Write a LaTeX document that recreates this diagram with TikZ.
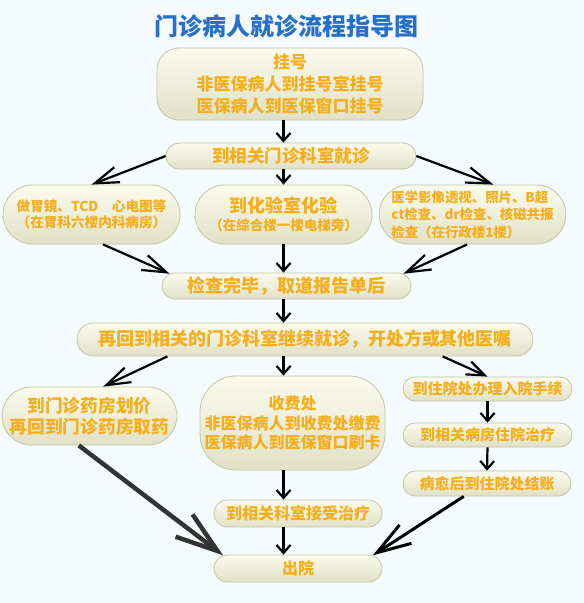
\documentclass[tikz,border=0pt]{standalone}
\usepackage{fontspec}
\usepackage{tikz}
\usepackage{xcolor}
\usetikzlibrary{arrows.meta, shapes.misc}
\newfontfamily\cjk{Noto Sans CJK SC}
\definecolor{bgblue}{RGB}{245,250,252}
\definecolor{boxtop}{RGB}{251,251,238}
\definecolor{boxbot}{RGB}{224,225,198}
\definecolor{boxline}{RGB}{196,196,168}
\definecolor{txtorange}{RGB}{245,174,28}
\definecolor{titleblue}{RGB}{38,112,205}
\tikzstyle{pill} = [rounded rectangle, draw=boxline, line width=0.8pt, top color=boxtop, bottom color=boxbot, text=txtorange, inner sep=0pt, align=center]
\tikzstyle{cornerbox} = [rectangle, draw=boxline, line width=0.8pt, top color=boxtop, bottom color=boxbot, text=txtorange, inner sep=0pt, align=center]
\tikzstyle{arr} = [line width=2.2pt, -{Straight Barb[length=8pt,width=14pt]}]
\tikzstyle{slant} = [line width=2.2pt, -{Straight Barb[length=24pt,width=16pt]}]
\tikzstyle{heavy} = [line width=4.5pt, draw=black!80, -{Straight Barb[length=42pt,width=28pt]}]
\newcommand{\boxfont}[2]{\cjk\bfseries\fontsize{#1}{#2}\selectfont}

\begin{document}
\begin{tikzpicture}[x=1pt, y=-1pt]
    % Page and background
    \fill[bgblue] (0,0) rectangle (584,603);
    \useasboundingbox (0,0) rectangle (584,603);

    % Title
    \node[text=titleblue, font=\boxfont{24}{24}] (title) at (286,26) {门诊病人就诊流程指导图};

    % Registration and department
    \node[cornerbox, rounded corners=22pt, minimum width=266pt, minimum height=72pt, font=\boxfont{17}{22}] (reg) at (290,84)
        {挂号\\非医保病人到挂号室挂号\\医保病人到医保窗口挂号};
    \node[pill, minimum width=250pt, minimum height=26pt, font=\boxfont{17.5}{18}] (dept) at (291,156) {到相关门诊科室就诊};

    % Three kinds of examination
    \node[pill, minimum width=177pt, minimum height=59pt, font=\boxfont{13.6}{16}] (endo) at (91.5,214.5)
        {做胃镜、TCD　心电图等\\（在胃科六楼内科病房）};
    \node[pill, minimum width=177pt, minimum height=59pt, font=\boxfont{18}{18}] (lab) at (283.5,214.5)
        {到化验室化验\\{\fontsize{13.5}{15}\selectfont （在综合楼一楼电梯旁）}};
    \node[pill, minimum width=177pt, minimum height=59pt, font=\boxfont{13.4}{17.5}, align=left] (img) at (472.5,214.5)
        {医学影像透视、照片、B超\\ct检查、dr检查、核磁共振\\检查（在行政楼1楼）};

    \node[pill, minimum width=249pt, minimum height=26pt, font=\boxfont{18}{18}] (done) at (286.5,286) {检查完毕，取道报告单后};
    \node[pill, minimum width=456pt, minimum height=33pt, font=\boxfont{18}{18}] (back) at (305,339.5)
        {再回到相关的门诊科室继续就诊，开处方或其他医嘱};

    % Pharmacy, cashier, hospital stay
    \node[pill, minimum width=175pt, minimum height=58pt, font=\boxfont{17.7}{21}] (pharm) at (89.5,416)
        {到门诊药房划价\\再回到门诊药房取药};
    \node[cornerbox, rounded corners=36pt, minimum width=185pt, minimum height=94pt, font=\boxfont{16}{19.5}] (fee) at (292.5,423)
        {收费处\\非医保病人到收费处缴费\\医保病人到医保窗口刷卡};
    \node[pill, minimum width=169pt, minimum height=24pt, font=\boxfont{15}{15}] (admit) at (487.5,389) {到住院处办理入院手续};
    \node[pill, minimum width=169pt, minimum height=24pt, font=\boxfont{15}{15}] (ward) at (487.5,435) {到相关病房住院治疗};
    \node[pill, minimum width=168pt, minimum height=25pt, font=\boxfont{15}{15}] (settle) at (487,483.5) {病愈后到住院处结账};
    \node[pill, minimum width=168pt, minimum height=27pt, font=\boxfont{16}{16}] (treat) at (298,513.5) {到相关科室接受治疗};
    \node[pill, minimum width=168pt, minimum height=27pt, font=\boxfont{16}{16}] (out) at (298,568.5) {出院};

    % Arrows
    \draw[arr] (reg.south -| lab) -- (dept.north -| lab);
    \draw[slant] (dept.west) -- (endo.north);
    \draw[arr] (dept.south -| lab) -- (lab.north);
    \draw[slant] (dept.east) -- (img.55);
    \draw[slant] (endo.-69) -- (done.174);
    \draw[arr] (lab.south) -- (done.north -| lab);
    \draw[slant] (img.-100) -- (done.6);
    \draw[arr] (done.south -| lab) -- (back.north -| lab);
    \draw[slant] (back.187) -- (pharm.65);
    \draw[arr] (back.south -| lab) -- (fee.north -| lab);
    \draw[slant, -{Straight Barb[length=18pt,width=14pt]}] (back.-7) -- (admit.north);
    \draw[arr] (admit.south) -- (ward.north);
    \draw[arr] (ward.south) -- (settle.north);
    \draw[arr] (fee.south -| lab) -- (treat.north -| lab);
    \draw[arr] (treat.south -| lab) -- (out.north -| lab);
    \draw[heavy] (pharm.-110) -- (out.170);
    \draw[line width=3pt, -{Straight Barb[length=34pt,width=22pt]}] (settle.-151) -- (out.10);
\end{tikzpicture}
\end{document}
